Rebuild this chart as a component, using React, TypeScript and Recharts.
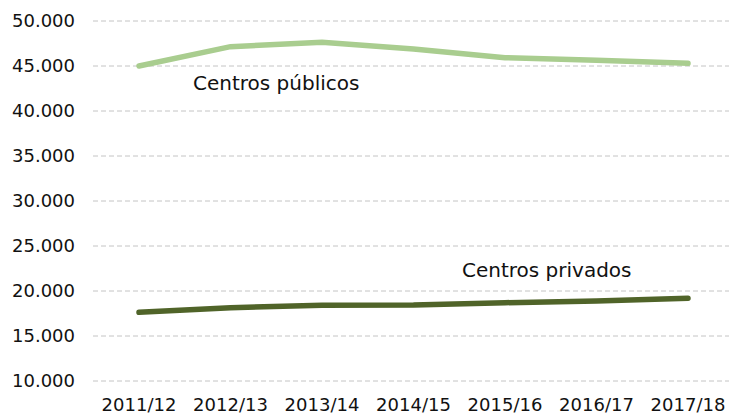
import { LineChart, Line, XAxis, YAxis, CartesianGrid } from 'recharts';

const courses = ['2011/12', '2012/13', '2013/14', '2014/15', '2015/16', '2016/17', '2017/18'];
const publicCentres = [45000, 47150, 47630, 46900, 45930, 45650, 45300];
const privateCentres = [17630, 18150, 18410, 18440, 18700, 18900, 19190];
const yTicks = [10000, 15000, 20000, 25000, 30000, 35000, 40000, 45000, 50000];

const data = courses.map((course, i) => ({
    course,
    publicos: publicCentres[i],
    privados: privateCentres[i],
}));

const fmt = (v: number) => String(v).replace(/\B(?=(\d{3})+(?!\d))/g, '.');

const font = '"DejaVu Sans", sans-serif';

export default function App() {
    return (
        <div style={{ position: 'absolute', left: 0, top: 0 }}>
            <LineChart width={729} height={416} data={data} margin={{ top: 21, right: 0, bottom: 0, left: 0 }}>
                <CartesianGrid vertical={false} stroke="#c4c4c4" strokeDasharray="5 3" />
                <XAxis
                    dataKey="course"
                    height={35}
                    axisLine={false}
                    tickLine={false}
                    tickSize={0}
                    tickMargin={17}
                    padding={{ left: 46, right: 41 }}
                    interval={0}
                    tick={{ fill: '#111', fontSize: 18, fontFamily: font }}
                />
                <YAxis
                    width={93}
                    domain={[10000, 50000]}
                    ticks={yTicks}
                    axisLine={false}
                    tickLine={false}
                    tickSize={0}
                    tickMargin={18}
                    tickFormatter={fmt}
                    tick={{ fill: '#111', fontSize: 18, fontFamily: font }}
                />
                <Line
                    dataKey="publicos"
                    stroke="#a9cd8f"
                    strokeWidth={5.5}
                    strokeLinecap="round"
                    dot={false}
                    activeDot={false}
                    isAnimationActive={false}
                />
                <Line
                    dataKey="privados"
                    stroke="#506429"
                    strokeWidth={5.5}
                    strokeLinecap="round"
                    dot={false}
                    activeDot={false}
                    isAnimationActive={false}
                />
                <text x={193} y={90} fontSize={20} fontFamily={font} fill="#111">Centros públicos</text>
                <text x={462} y={277} fontSize={20} fontFamily={font} fill="#111">Centros privados</text>
            </LineChart>
        </div>
    );
}
